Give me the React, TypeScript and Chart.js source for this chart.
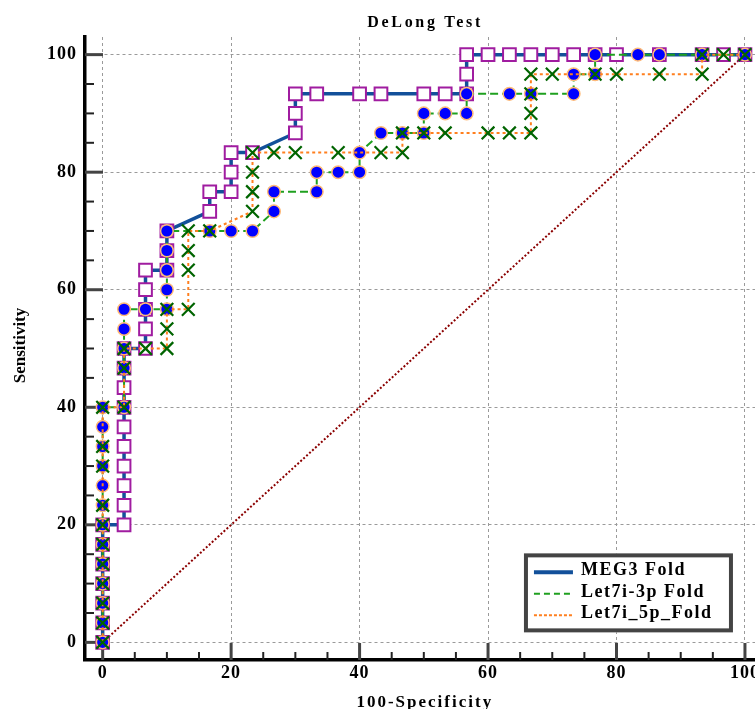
import { useEffect, useRef } from "react";
import { Chart, registerables } from "chart.js";

Chart.register(...registerables);

const chartTitle = "DeLong Test";
const xAxisTitle = "100-Specificity";
const yAxisTitle = "Sensitivity";
const seriesLabels = ["MEG3 Fold", "Let7i-3p Fold", "Let7i_5p_Fold"];

const xTickValues = [0, 20, 40, 60, 80, 100];
const yTickValues = [0, 20, 40, 60, 80, 100];

// MEG3 Fold (100-Specificity, Sensitivity)
const meg3X = [0, 0, 0, 0, 0, 0, 0, 3.33, 3.33, 3.33, 3.33, 3.33, 3.33, 3.33, 3.33, 3.33, 3.33, 6.67, 6.67, 6.67, 6.67, 6.67, 10, 10, 10, 16.67, 16.67, 20, 20, 20, 23.33, 30, 30, 30, 33.33, 40, 43.33, 50, 53.33, 56.67, 56.67, 56.67, 60, 63.33, 66.67, 70, 73.33, 76.67, 80, 86.67, 93.33, 96.67, 100];
const meg3Y = [0, 3.33, 6.67, 10, 13.33, 16.67, 20, 20, 23.33, 26.67, 30, 33.33, 36.67, 40, 43.33, 46.67, 50, 50, 53.33, 56.67, 60, 63.33, 63.33, 66.67, 70, 73.33, 76.67, 76.67, 80, 83.33, 83.33, 86.67, 90, 93.33, 93.33, 93.33, 93.33, 93.33, 93.33, 93.33, 96.67, 100, 100, 100, 100, 100, 100, 100, 100, 100, 100, 100, 100];

// Let7i-3p Fold
const let3pX = [0, 0, 0, 0, 0, 0, 0, 0, 0, 0, 0, 0, 0, 3.33, 3.33, 3.33, 3.33, 3.33, 6.67, 10, 10, 10, 10, 10, 16.67, 20, 23.33, 26.67, 26.67, 33.33, 33.33, 36.67, 40, 40, 43.33, 46.67, 50, 50, 53.33, 56.67, 56.67, 63.33, 66.67, 73.33, 73.33, 76.67, 76.67, 83.33, 86.67, 93.33, 100];
const let3pY = [0, 3.33, 6.67, 10, 13.33, 16.67, 20, 23.33, 26.67, 30, 33.33, 36.67, 40, 40, 46.67, 50, 53.33, 56.67, 56.67, 56.67, 60, 63.33, 66.67, 70, 70, 70, 70, 73.33, 76.67, 76.67, 80, 80, 80, 83.33, 86.67, 86.67, 86.67, 90, 90, 90, 93.33, 93.33, 93.33, 93.33, 96.67, 96.67, 100, 100, 100, 100, 100];

// Let7i_5p_Fold
const let5pX = [0, 0, 0, 0, 0, 0, 0, 0, 0, 0, 0, 3.33, 3.33, 3.33, 6.67, 10, 10, 10, 13.33, 13.33, 13.33, 13.33, 16.67, 23.33, 23.33, 23.33, 23.33, 26.67, 30, 36.67, 43.33, 46.67, 46.67, 50, 53.33, 60, 63.33, 66.67, 66.67, 66.67, 66.67, 70, 76.67, 80, 86.67, 93.33, 93.33, 96.67, 100];
const let5pY = [0, 3.33, 6.67, 10, 13.33, 16.67, 20, 23.33, 30, 33.33, 40, 40, 46.67, 50, 50, 50, 53.33, 56.67, 56.67, 63.33, 66.67, 70, 70, 73.33, 76.67, 80, 83.33, 83.33, 83.33, 83.33, 83.33, 83.33, 86.67, 86.67, 86.67, 86.67, 86.67, 86.67, 90, 93.33, 96.67, 96.67, 96.67, 96.67, 96.67, 96.67, 100, 100, 100];

// Reference (chance) line
const diagX = [0, 100];
const diagY = [0, 100];

const SERIF = "'Liberation Serif', 'Times New Roman', Times, serif";

const toPoints = (xs: number[], ys: number[]) => xs.map((x, i) => ({ x, y: ys[i] }));

const decorPlugin = {
  id: "decor",
  beforeDraw(chart: any) {
    chart.ctx.letterSpacing = "1px";
  },
  beforeDatasetsDraw(chart: any) {
    const { ctx, chartArea, scales } = chart;
    const xs = scales.x;
    const ys = scales.y;
    ctx.save();
    ctx.letterSpacing = "0px";
    for (let v = 0; v <= 100; v += 5) {
      const px = xs.getPixelForValue(v);
      const major = v % 20 === 0;
      ctx.beginPath();
      ctx.lineWidth = major ? 3 : 2;
      ctx.strokeStyle = major ? "#444" : "#222";
      ctx.moveTo(px, chartArea.bottom);
      ctx.lineTo(px, chartArea.bottom - (major ? 17 : 8));
      ctx.stroke();
    }
    for (let v = 0; v <= 100; v += 5) {
      const py = ys.getPixelForValue(v);
      const major = v % 20 === 0;
      ctx.beginPath();
      ctx.lineWidth = major ? 3 : 2;
      ctx.strokeStyle = major ? "#444" : "#222";
      ctx.moveTo(chartArea.left, py);
      ctx.lineTo(chartArea.left + (major ? 18 : 9), py);
      ctx.stroke();
    }
    ctx.restore();
  },
  afterDraw(chart: any) {
    const { ctx, chartArea, scales } = chart;
    const xs = scales.x;
    const ys = scales.y;
    const cx = (xs.getPixelForValue(0) + xs.getPixelForValue(100)) / 2;

    ctx.save();
    ctx.fillStyle = "#000";
    ctx.font = `bold 16px ${SERIF}`;
    ctx.letterSpacing = "2.7px";
    ctx.textAlign = "center";
    ctx.textBaseline = "alphabetic";
    ctx.fillText(chartTitle, cx + 1.3, 26.5);

    ctx.font = `bold 17px ${SERIF}`;
    ctx.letterSpacing = "2px";
    ctx.fillText(xAxisTitle, cx + 1, chartArea.bottom + 46.5);

    ctx.save();
    ctx.font = `bold 17px ${SERIF}`;
    ctx.letterSpacing = "0px";
    ctx.translate(25, (chartArea.top + chartArea.bottom) / 2 - 3);
    ctx.rotate(-Math.PI / 2);
    ctx.textAlign = "center";
    ctx.fillText(yAxisTitle, 0, 0);
    ctx.restore();

    // Legend box
    const right = xs.getPixelForValue(100) - 12;
    const bottom = ys.getPixelForValue(0) - 10;
    const w = 209;
    const h = 79;
    const left = right - w;
    const top = bottom - h;
    ctx.fillStyle = "#fff";
    ctx.fillRect(left, top, w, h);
    ctx.lineWidth = 4;
    ctx.strokeStyle = "#444";
    ctx.strokeRect(left + 2, top + 2, w - 4, h - 4);

    const dsets = chart.data.datasets;
    const sampleStyles = [
      { width: 4, dash: [] as number[] },
      { width: 2, dash: [6, 4] },
      { width: 2, dash: [3, 2] },
    ];
    ctx.font = `bold 18px ${SERIF}`;
    ctx.letterSpacing = "1.5px";
    ctx.textAlign = "left";
    for (let i = 0; i < seriesLabels.length; i++) {
      const base = top + 22 + i * 21.5;
      ctx.beginPath();
      ctx.setLineDash(sampleStyles[i].dash);
      ctx.lineWidth = sampleStyles[i].width;
      ctx.strokeStyle = dsets[i].borderColor;
      ctx.moveTo(left + 10, base - 3);
      ctx.lineTo(left + 49, base - 3);
      ctx.stroke();
      ctx.setLineDash([]);
      ctx.fillStyle = "#000";
      ctx.fillText(seriesLabels[i], left + 57, base);
    }
    ctx.restore();
  },
};

export default function App() {
  const canvasRef = useRef<HTMLCanvasElement | null>(null);

  useEffect(() => {
    const canvas = canvasRef.current;
    if (!canvas) return;
    const tickFont = { family: SERIF, size: 18, weight: "bold" as const };
    const chart = new Chart(canvas, {
      type: "scatter",
      data: {
        datasets: [
          {
            label: seriesLabels[0],
            data: toPoints(meg3X, meg3Y),
            showLine: true,
            borderColor: "#12509A",
            borderWidth: 3.5,
            pointStyle: "rect",
            pointRadius: 9,
            pointBackgroundColor: "#ffffff",
            pointBorderColor: "#A01CA0",
            pointBorderWidth: 2,
            order: 3,
          },
          {
            label: seriesLabels[1],
            data: toPoints(let3pX, let3pY),
            showLine: true,
            borderColor: "#1FA01F",
            borderWidth: 2,
            borderDash: [8, 4],
            pointStyle: "circle",
            pointRadius: 6.3,
            pointBackgroundColor: "#0000FF",
            pointBorderColor: "#FFBA78",
            pointBorderWidth: 1.5,
            order: 2,
          },
          {
            label: seriesLabels[2],
            data: toPoints(let5pX, let5pY),
            showLine: true,
            borderColor: "#FF7F1E",
            borderWidth: 2,
            borderDash: [3, 3],
            pointStyle: "crossRot",
            pointRadius: 9,
            pointBorderColor: "#006400",
            pointBorderWidth: 2.2,
            order: 1,
          },
          {
            label: "diagonal",
            data: toPoints(diagX, diagY),
            showLine: true,
            borderColor: "#8B0000",
            borderWidth: 2,
            borderDash: [2, 2],
            pointRadius: 0,
            order: 4,
          },
        ],
      },
      options: {
        animation: false,
        responsive: false,
        events: [],
        layout: { padding: { top: 37, left: 0, right: 0, bottom: 0 } },
        plugins: {
          legend: { display: false },
          title: { display: false },
          tooltip: { enabled: false },
        },
        scales: {
          x: {
            type: "linear",
            min: -2.75,
            max: 102,
            afterBuildTicks: (s: any) => {
              s.ticks = xTickValues.map((v) => ({ value: v }));
            },
            afterFit: (s: any) => {
              s.height = 49;
              s.paddingLeft = 0;
              s.paddingRight = 0;
            },
            grid: { color: "#9a9a9a", lineWidth: 1, drawTicks: false },
            border: { display: true, color: "#000", width: 3.5, dash: [3, 3] },
            ticks: {
              font: tickFont,
              color: "#000",
              padding: 3,
              maxRotation: 0,
              autoSkip: false,
            },
          },
          y: {
            type: "linear",
            min: -3,
            max: 103,
            afterBuildTicks: (s: any) => {
              s.ticks = yTickValues.map((v) => ({ value: v }));
            },
            afterFit: (s: any) => {
              s.width = 85;
              s.paddingTop = 0;
              s.paddingBottom = 0;
            },
            grid: { color: "#9a9a9a", lineWidth: 1, drawTicks: false },
            border: { display: true, color: "#000", width: 3.5, dash: [3, 3] },
            ticks: {
              font: tickFont,
              color: "#000",
              padding: 8,
              autoSkip: false,
            },
          },
        },
      },
      plugins: [decorPlugin],
    });
    return () => chart.destroy();
  }, []);

  return (
    <div
      style={{
        position: "fixed",
        left: 0,
        top: 0,
        width: 755,
        height: 709,
        overflow: "hidden",
        background: "#fff",
      }}
    >
      <canvas ref={canvasRef} width={769} height={709} style={{ display: "block" }} />
    </div>
  );
}
